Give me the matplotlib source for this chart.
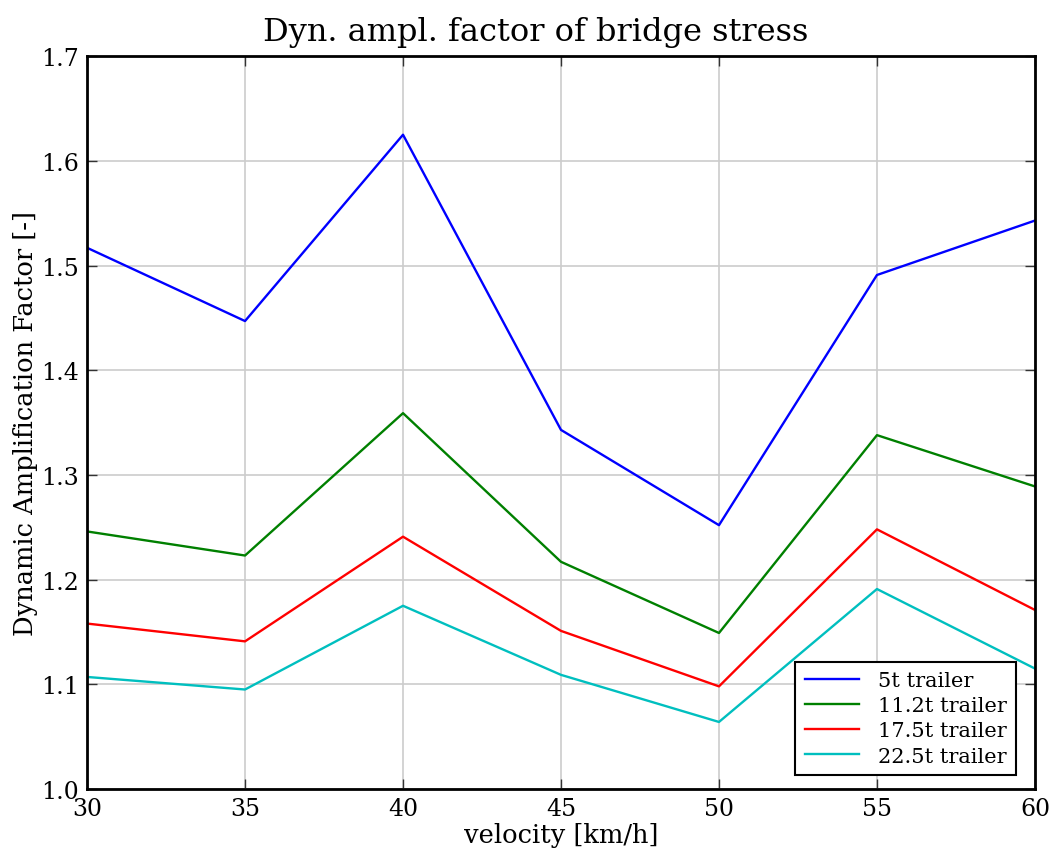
import numpy as np
import matplotlib
matplotlib.use("Agg")
import matplotlib.pyplot as plt

velocity = [30, 35, 40, 45, 50, 55, 60]
daf_5t = [1.517, 1.447, 1.625, 1.343, 1.252, 1.491, 1.543]
daf_11t = [1.246, 1.223, 1.359, 1.217, 1.149, 1.338, 1.289]
daf_17t = [1.158, 1.141, 1.241, 1.151, 1.098, 1.248, 1.171]
daf_22t = [1.107, 1.095, 1.175, 1.109, 1.064, 1.191, 1.115]
labels = ["5t trailer", "11.2t trailer", "17.5t trailer", "22.5t trailer"]

plt.rcParams["font.family"] = "DejaVu Serif"

fig = plt.figure(figsize=(10.55, 8.54), dpi=100)
ax = fig.add_axes([0.0825, 0.075, 0.8985, 0.858])

for vals, col, lab in zip([daf_5t, daf_11t, daf_17t, daf_22t],
                          ["#0000ff", "#008000", "#ff0000", "#00bfbf"], labels):
    ax.plot(velocity, vals, color=col, lw=1.7, label=lab)

ax.set_xlim(30, 60)
ax.set_ylim(1.0, 1.7)
ax.set_xticks(np.arange(30, 61, 5))
ax.set_yticks(np.arange(1.0, 1.71, 0.1))
ax.grid(True, color="#cccccc", lw=1.2)
ax.set_axisbelow(True)
ax.tick_params(direction="in", length=7, width=1, labelsize=17,
               top=True, right=True, pad=6, color="#333333")
for sp in ax.spines.values():
    sp.set_linewidth(2)

ax.set_title("Dyn. ampl. factor of bridge stress", fontsize=23, pad=12, x=0.473)
ax.set_xlabel("velocity [km/h]", fontsize=18.5, labelpad=1)
ax.set_ylabel("Dynamic Amplification Factor [-]", fontsize=18.5, labelpad=2)

leg = ax.legend(loc="lower right", bbox_to_anchor=(0.98, 0.019),
                fontsize=15, fancybox=False, framealpha=1,
                edgecolor="black", borderaxespad=0,
                handlelength=2.6, handletextpad=0.9, borderpad=0.45,
                labelspacing=0.3)
leg.get_frame().set_linewidth(1.5)

fig.savefig("out.png", dpi=100)
